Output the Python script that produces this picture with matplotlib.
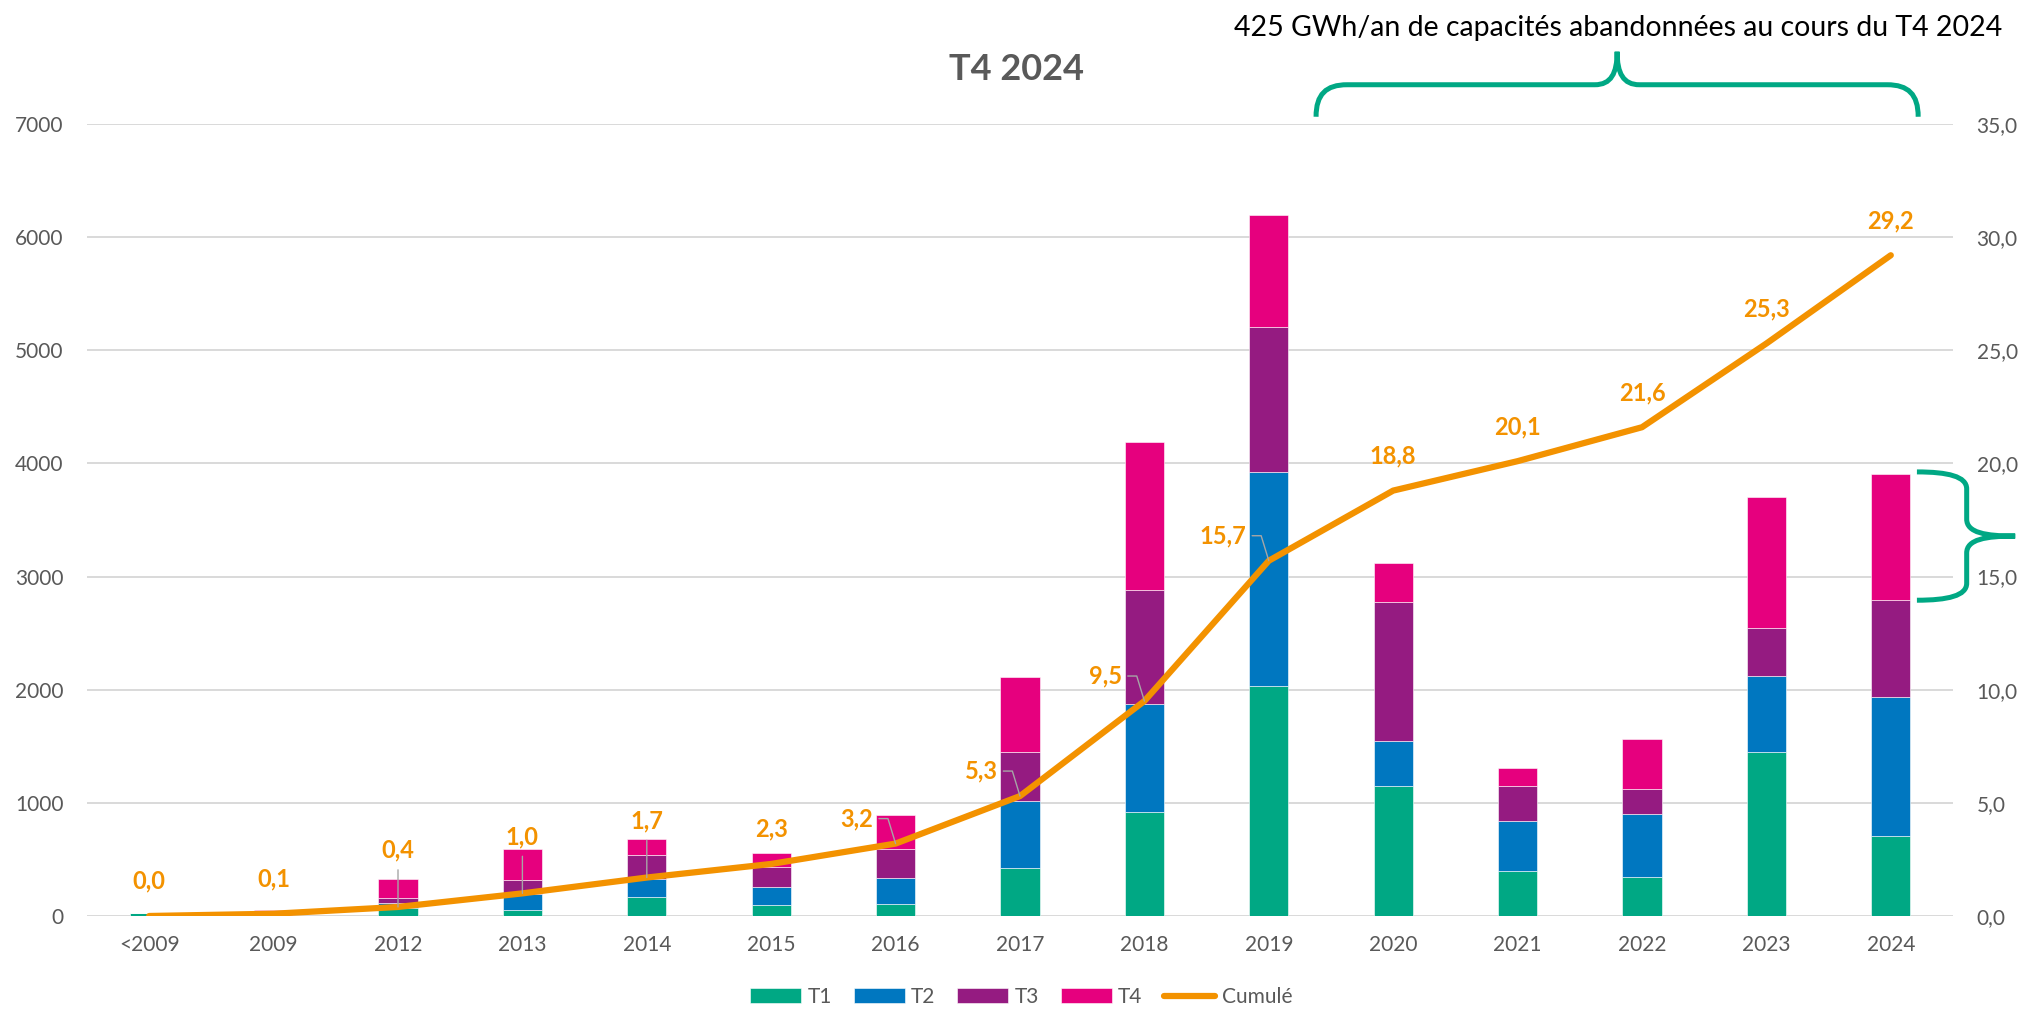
import matplotlib
matplotlib.use('Agg')
import matplotlib.pyplot as plt
import numpy as np
from matplotlib.path import Path
from matplotlib.patches import PathPatch

plt.rcParams['font.family'] = ['Lato', 'DejaVu Sans']

# données (GWh/an, par trimestre)
categories = ['<2009', '2009', '2012', '2013', '2014', '2015', '2016', '2017',
              '2018', '2019', '2020', '2021', '2022', '2023', '2024']
t1 = [30, 0, 70, 50, 170, 97, 103, 425, 919, 2033, 1149, 394, 344, 1447, 707]
t2 = [0, 0, 45, 142, 160, 160, 233, 587, 952, 1888, 395, 449, 555, 672, 1229]
t3 = [0, 5, 42, 124, 207, 179, 254, 437, 1007, 1285, 1232, 303, 221, 425, 855]
t4 = [0, 50, 168, 280, 147, 119, 306, 660, 1313, 994, 346, 164, 440, 1161, 1114]
# cumul en TWh/an
cumul = [0.0, 0.1, 0.4, 1.0, 1.7, 2.3, 3.2, 5.3, 9.5, 15.7, 18.8, 20.1, 21.6, 25.3, 29.2]

colors = ['#00A884', '#0077C0', '#951B81', '#E6007E']
orange = '#F39200'
grey = '#595959'

W, H = 2026, 1010
fig = plt.figure(figsize=(W / 100, H / 100), dpi=100)
ax = fig.add_axes([87 / W, 94 / H, 1866 / W, 792 / H])

x = np.arange(len(categories))
bottom = np.zeros(len(x))
for vals, col, lab in zip([t1, t2, t3, t4], colors, ['T1', 'T2', 'T3', 'T4']):
    ax.bar(x, vals, 0.314, bottom=bottom, color=col, label=lab,
           edgecolor='white', linewidth=0.4)
    bottom += np.array(vals)

ax.set_xlim(-0.5, len(x) - 0.5)
ax.set_ylim(0, 7000)
ax.set_yticks(range(0, 7001, 1000))
ax.set_xticks(x)
ax.set_xticklabels(categories)
ax.grid(axis='y', color='#D9D9D9', lw=1.4)
ax.set_axisbelow(True)
for s in ax.spines.values():
    s.set_visible(False)
ax.tick_params(axis='y', length=0, labelsize=15, colors=grey, pad=17)
ax.tick_params(axis='x', length=0, labelsize=15, colors=grey, pad=14)

ax2 = ax.twinx()
ax2.set_ylim(0, 35)
ticks2 = np.arange(0, 36, 5)
ax2.set_yticks(ticks2)
ax2.set_yticklabels([f"{v:.1f}".replace('.', ',') for v in ticks2])
for s in ax2.spines.values():
    s.set_visible(False)
ax2.tick_params(axis='y', length=0, labelsize=15, colors=grey, pad=17)
line, = ax2.plot(x, cumul, color=orange, lw=4.5, solid_capstyle='round',
                 solid_joinstyle='round', label='Cumulé')

# étiquettes du cumul
lead = '#A6A6A6'
for i, v in enumerate(cumul):
    txt = f"{v:.1f}".replace('.', ',')
    kw = dict(fontsize=17, fontweight='bold', color=orange, textcoords='offset points')
    if i in (2, 3, 4):
        ax2.annotate(txt, (i, v), xytext=(0, 41), ha='center', va='center',
                     arrowprops=dict(arrowstyle='-', color=lead, lw=1,
                                     relpos=(0.5, 0), shrinkA=4, shrinkB=0), **kw)
    elif i in (6, 7, 8, 9):
        ax2.annotate(txt, (i, v), xytext=(-16, 18), ha='right', va='center',
                     arrowprops=dict(arrowstyle='-', color=lead, lw=1,
                                     relpos=(1, 0.5), shrinkA=2, shrinkB=0,
                                     connectionstyle='angle,angleA=0,angleB=107,rad=0'),
                     **kw)
    else:
        ax2.annotate(txt, (i, v), xytext=(0, 25), ha='center', va='center', **kw)

# accolades
green = '#00A884'
xl, xr, xm = 9.38, 14.22, 11.8
yb, yh, yt = 7064, 7347, 7639
top_brace = Path(
    [(xl, yb), (xl, yb + 0.7 * (yh - yb)), (xl + 0.08, yh), (xl + 0.25, yh),
     (xm - 0.18, yh),
     (xm - 0.05, yh), (xm, yh + 100), (xm, yt),
     (xm, yh + 100), (xm + 0.05, yh), (xm + 0.18, yh),
     (xr - 0.25, yh),
     (xr - 0.08, yh), (xr, yb + 0.7 * (yh - yb)), (xr, yb)],
    [Path.MOVETO, Path.CURVE4, Path.CURVE4, Path.CURVE4, Path.LINETO,
     Path.CURVE4, Path.CURVE4, Path.CURVE4, Path.CURVE4, Path.CURVE4, Path.CURVE4,
     Path.LINETO, Path.CURVE4, Path.CURVE4, Path.CURVE4])
ax.add_patch(PathPatch(top_brace, fill=False, edgecolor=green, lw=3.6, clip_on=False))

ytop = bottom[-1] + 20
ybot = bottom[-1] - t4[-1]
ymid = (ytop + ybot) / 2
xe, xv, xt = 14.21, 14.61, 15.0
right_brace = Path(
    [(xe, ytop), (xe + 0.25, ytop), (xv, ytop - 40), (xv, ytop - 150),
     (xv, ymid + 150),
     (xv, ymid + 30), (xv + 0.15, ymid), (xt, ymid),
     (xv + 0.15, ymid), (xv, ymid - 30), (xv, ymid - 150),
     (xv, ybot + 150),
     (xv, ybot + 40), (xe + 0.25, ybot), (xe, ybot)],
    [Path.MOVETO, Path.CURVE4, Path.CURVE4, Path.CURVE4, Path.LINETO,
     Path.CURVE4, Path.CURVE4, Path.CURVE4, Path.CURVE4, Path.CURVE4, Path.CURVE4,
     Path.LINETO, Path.CURVE4, Path.CURVE4, Path.CURVE4])
ax.add_patch(PathPatch(right_brace, fill=False, edgecolor=green, lw=3.6, clip_on=False))

fig.text(1016.7 / W, 1 - 69.3 / H, 'T4 2024', ha='center', va='center',
         fontsize=26, fontweight='bold', color=grey)
fig.text(1618 / W, 1 - 28 / H, '425 GWh/an de capacités abandonnées au cours du T4 2024',
         ha='center', va='center', fontsize=20.5, color='black')

h1, l1 = ax.get_legend_handles_labels()
h2, l2 = ax2.get_legend_handles_labels()
fig.legend(h1 + h2, l1 + l2, loc='center', bbox_to_anchor=(0.504, 0.013), ncol=5,
           frameon=False, fontsize=15, handlelength=2.45, handleheight=0.7,
           handletextpad=0.3, columnspacing=1.05, labelcolor=grey)

fig.savefig('out.png', dpi=100)
